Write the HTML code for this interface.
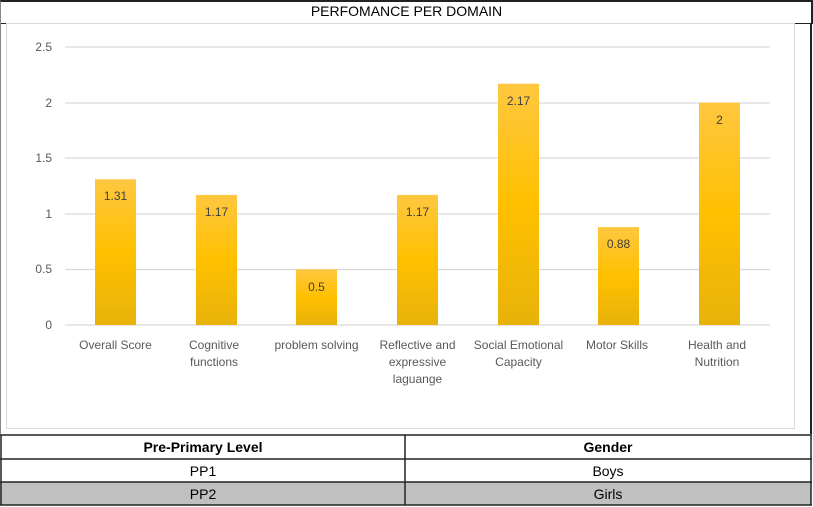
<!DOCTYPE html>
<html><head><style>
body{margin:0;width:813px;height:507px;background:#fff;position:relative;font-family:"Liberation Sans",sans-serif;overflow:hidden}
.a{position:absolute}
</style></head><body>
<div class="a" style="left:0;top:0;width:810px;height:21px;border-top:2px solid #222;border-right:2px solid #222;border-left:1px solid #888;border-bottom:1px solid #222"></div>
<div class="a" style="left:0;top:3px;width:813px;text-align:center;font-size:14px;color:#000">PERFOMANCE PER DOMAIN</div>
<div class="a" style="left:0;top:23px;width:1px;height:411px;background:#888"></div>
<div class="a" style="left:810px;top:23px;width:2px;height:411px;background:#222"></div>
<div class="a" style="left:6px;top:23px;width:787px;height:404px;border:1px solid #d9d9d9"></div>
<svg class="a" style="left:0;top:0" width="813" height="507">
<defs><linearGradient id="g" x1="0" y1="0" x2="0" y2="1">
<stop offset="0" stop-color="#FFC740"/><stop offset="0.5" stop-color="#FFC000"/><stop offset="1" stop-color="#E8B20A"/></linearGradient></defs>
<g stroke="#d9d9d9" stroke-width="1.3">
<line x1="65" x2="770" y1="47" y2="47"/><line x1="65" x2="770" y1="103" y2="103"/><line x1="65" x2="770" y1="158" y2="158"/><line x1="65" x2="770" y1="214" y2="214"/><line x1="65" x2="770" y1="269.5" y2="269.5"/><line x1="65" x2="770" y1="325" y2="325"/></g>
<g font-size="12" fill="#595959" text-anchor="end" font-family="Liberation Sans">
<text x="52" y="51">2.5</text><text x="52" y="107">2</text><text x="52" y="162">1.5</text><text x="52" y="218">1</text><text x="52" y="273">0.5</text><text x="52" y="329">0</text></g>
<g fill="url(#g)">
<rect x="95" y="179.3" width="41" height="145.7"/>
<rect x="196" y="194.9" width="41" height="130.1"/>
<rect x="296" y="269.4" width="41" height="55.6"/>
<rect x="397" y="194.9" width="41" height="130.1"/>
<rect x="498" y="83.7" width="41" height="241.3"/>
<rect x="598" y="227.1" width="41" height="97.9"/>
<rect x="699" y="102.6" width="41" height="222.4"/></g>
<g font-size="12" fill="#404040" text-anchor="middle" font-family="Liberation Sans">
<text x="115.5" y="200">1.31</text><text x="216.5" y="216">1.17</text><text x="316.5" y="291">0.5</text><text x="417.5" y="216">1.17</text><text x="518.5" y="105">2.17</text><text x="618.5" y="248">0.88</text><text x="719.5" y="124">2</text></g>
<g font-size="12" fill="#595959" text-anchor="middle" font-family="Liberation Sans">
<text x="115.5" y="349">Overall Score</text>
<text x="214" y="349">Cognitive</text><text x="214" y="366">functions</text>
<text x="316.5" y="349">problem solving</text>
<text x="417.5" y="349">Reflective and</text><text x="417.5" y="366">expressive</text><text x="417.5" y="383">laguange</text>
<text x="518.5" y="349">Social Emotional</text><text x="518.5" y="366">Capacity</text>
<text x="617" y="349">Motor Skills</text>
<text x="717" y="349">Health and</text><text x="717" y="366">Nutrition</text></g>
</svg>
<div class="a" style="left:0;top:482px;width:811px;height:23px;background:#c0c0c0"></div>
<svg class="a" style="left:0;top:0" width="813" height="507">
<g stroke="#222" stroke-width="1.5" fill="none">
<line x1="0" x2="812" y1="435" y2="435"/><line x1="0" x2="812" y1="459" y2="459"/><line x1="0" x2="812" y1="482" y2="482"/><line x1="0" x2="812" y1="505" y2="505"/>
<line x1="405" x2="405" y1="435" y2="505"/><line x1="1" x2="1" y1="435" y2="505"/><line x1="811" x2="811" y1="435" y2="505"/></g>
<g font-size="14" fill="#000" text-anchor="middle" font-family="Liberation Sans">
<text x="203" y="452" font-weight="bold">Pre-Primary Level</text><text x="608" y="452" font-weight="bold">Gender</text>
<text x="203" y="476">PP1</text><text x="608" y="476">Boys</text>
<text x="203" y="499">PP2</text><text x="608" y="499">Girls</text></g>
</svg>
</body></html>
